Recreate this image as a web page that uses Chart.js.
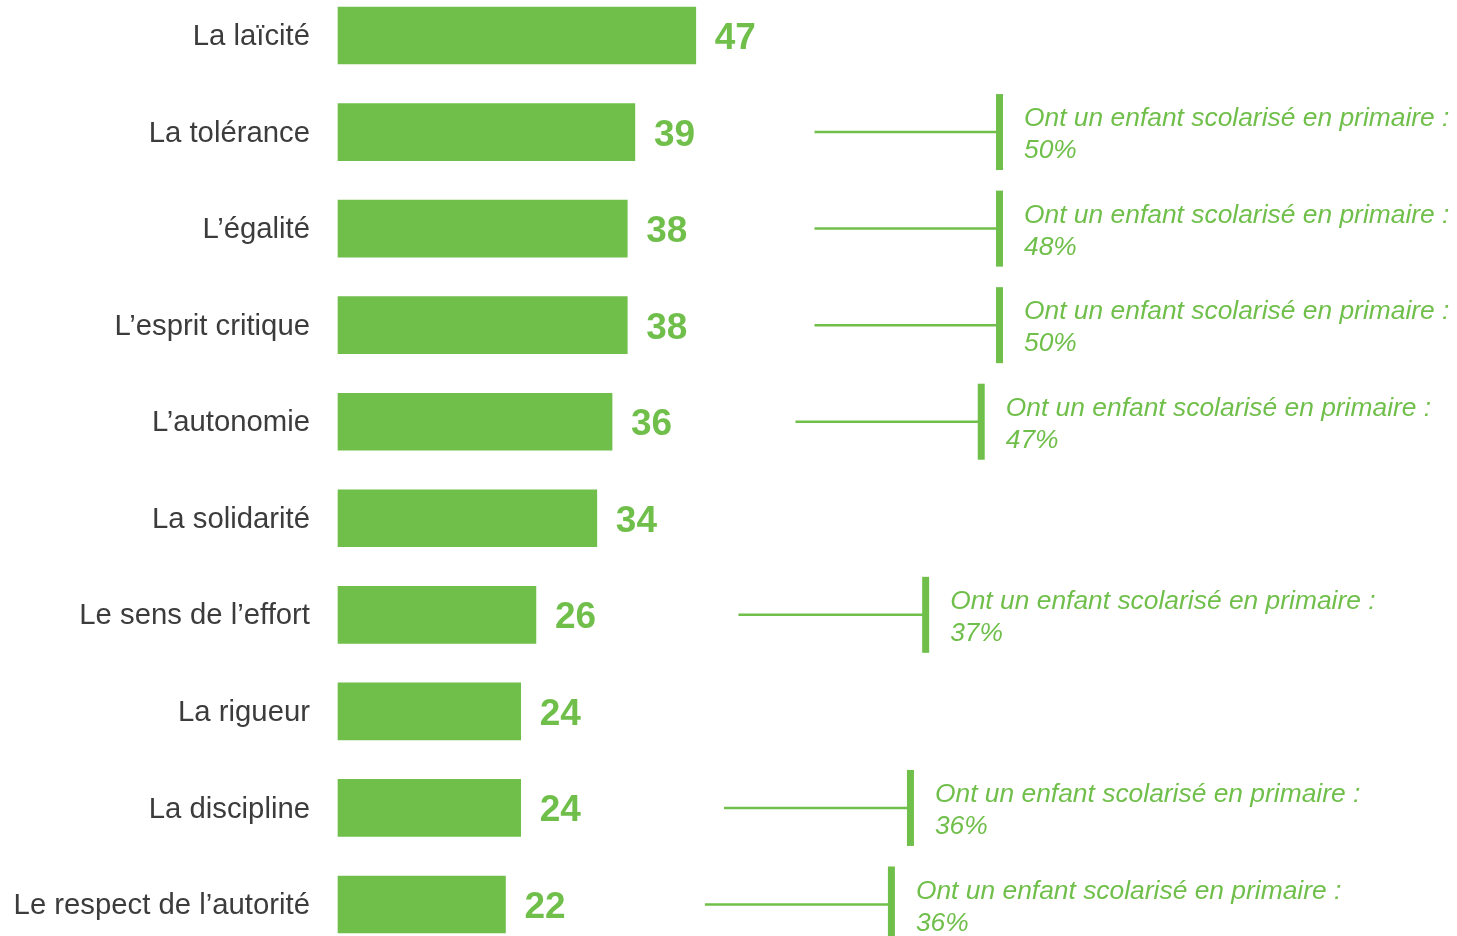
<!DOCTYPE html>
<html>
<head>
<meta charset="utf-8">
<script src="https://cdn.jsdelivr.net/npm/chart.js@4"></script>
<style>
  html, body { margin: 0; padding: 0; background: #fff; }
  #wrap { width: 1457px; height: 936px; position: relative; }
</style>
</head>
<body>
<div id="wrap"><canvas id="c"></canvas></div>
<script>
// ---- data ----
const categories = [
  "La laïcité",
  "La tolérance",
  "L’égalité",
  "L’esprit critique",
  "L’autonomie",
  "La solidarité",
  "Le sens de l’effort",
  "La rigueur",
  "La discipline",
  "Le respect de l’autorité"
];
const values = [47, 39, 38, 38, 36, 34, 26, 24, 24, 22];

// annotations: row index, percentage among parents of primary school children
const noteRows = [1, 2, 3, 4, 6, 8, 9];
const notePercents = [50, 48, 50, 47, 37, 36, 36];
const noteText = "Ont un enfant scolarisé en primaire :";

// ---- style ----
const GREEN = "#70BF4B";
const FONT = "'Liberation Sans', Arial, Helvetica, sans-serif";
// connector start / end positions (in x-axis units) for each annotation
const noteLineStart = [62.6, 62.6, 62.6, 60.1, 52.6, 50.7, 48.2];
const noteLineEnd   = [86.9, 86.9, 86.9, 84.5, 77.2, 75.2, 72.7];

const valueLabels = {
  id: 'valueLabels',
  afterDatasetsDraw(chart) {
    const ctx = chart.ctx;
    const meta = chart.getDatasetMeta(0);
    ctx.save();
    ctx.fillStyle = GREEN;
    ctx.font = "bold 37px " + FONT;
    ctx.textAlign = 'left';
    ctx.textBaseline = 'alphabetic';
    meta.data.forEach((bar, i) => {
      ctx.fillText(String(values[i]), bar.x + 19, bar.y + 13.5);
    });
    ctx.restore();
  }
};

const notes = {
  id: 'notes',
  afterDatasetsDraw(chart) {
    const ctx = chart.ctx;
    const xs = chart.scales.x, ys = chart.scales.y;
    ctx.save();
    noteRows.forEach((row, k) => {
      const y = ys.getPixelForValue(row);
      const x0 = xs.getPixelForValue(noteLineStart[k]);
      const x1 = xs.getPixelForValue(noteLineEnd[k]);
      ctx.strokeStyle = GREEN;
      ctx.lineWidth = 2.5;
      ctx.beginPath();
      ctx.moveTo(x0, y);
      ctx.lineTo(x1, y);
      ctx.stroke();
      ctx.fillStyle = GREEN;
      ctx.fillRect(x1 - 3.5, y - 38, 7, 76);
      ctx.font = "italic 26.4px " + FONT;
      ctx.textAlign = 'left';
      ctx.textBaseline = 'alphabetic';
      ctx.fillText(noteText, x1 + 24.5, y - 6);
      ctx.fillText(notePercents[k] + "%", x1 + 24.5, y + 26);
    });
    ctx.restore();
  }
};

new Chart(document.getElementById('c'), {
  type: 'bar',
  data: {
    labels: categories,
    datasets: [{
      data: values,
      backgroundColor: GREEN,
      borderWidth: 0,
      barThickness: 57,
      clip: false
    }]
  },
  options: {
    indexAxis: 'y',
    responsive: true,
    maintainAspectRatio: false,
    animation: false,
    layout: { padding: { top: 35.5, bottom: 31.5, left: 0, right: 0 } },
    plugins: {
      legend: { display: false },
      tooltip: { enabled: false }
    },
    scales: {
      x: {
        display: false,
        min: 0,
        max: 147
      },
      y: {
        offset: false,
        grid: { display: false, drawTicks: false },
        border: { display: false },
        ticks: {
          color: '#3c3c3c',
          padding: 28,
          labelOffset: 1.5,
          font: { family: FONT, size: 29.3 }
        },
        afterFit(scale) {
          scale.width = 338;
          scale.paddingTop = 0;
          scale.paddingBottom = 0;
        }
      }
    }
  },
  plugins: [valueLabels, notes]
});
</script>
</body>
</html>
